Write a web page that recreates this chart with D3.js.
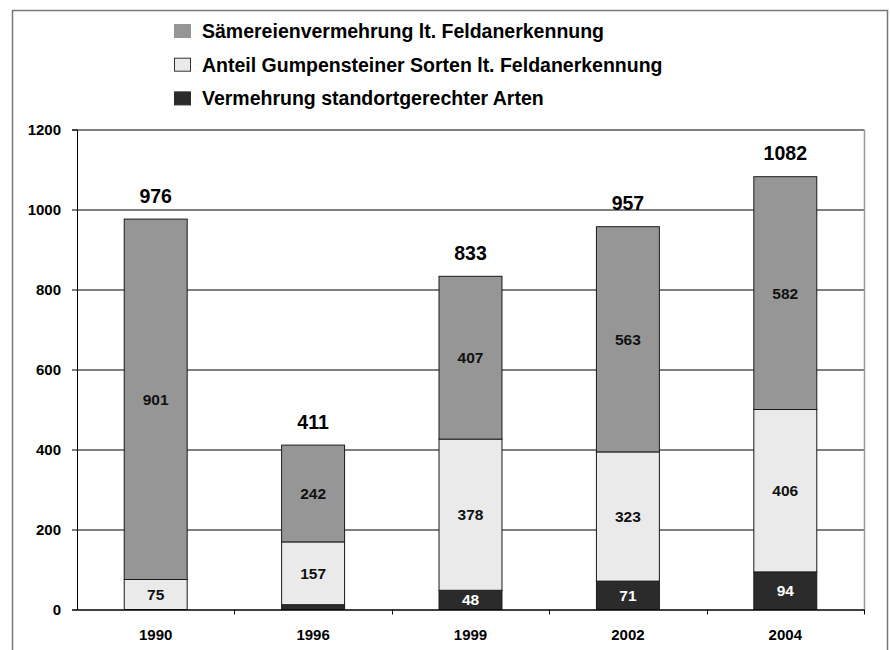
<!DOCTYPE html>
<html>
<head>
<meta charset="utf-8">
<script src="https://cdn.jsdelivr.net/npm/d3@7"></script>
<style>
  body { margin: 0; background: #fff; }
  svg text { font-family: "Liberation Sans", Arial, sans-serif; font-weight: bold; }
</style>
</head>
<body>
<div id="chart"></div>
<script>
// Chart data
const years = ['1990', '1996', '1999', '2002', '2004'];
const standort = [0, 12, 48, 71, 94];          // Vermehrung standortgerechter Arten
const gumpenstein = [75, 157, 378, 323, 406];   // Anteil Gumpensteiner Sorten
const saatgut = [901, 242, 407, 563, 582];      // Sämereienvermehrung
const totals = [976, 411, 833, 957, 1082];
const yTicks = [0, 200, 400, 600, 800, 1000, 1200];

const seriesNames = [
    'Sämereienvermehrung lt. Feldanerkennung',
    'Anteil Gumpensteiner Sorten lt. Feldanerkennung',
    'Vermehrung standortgerechter Arten'
];

const width = 890;
const height = 650;
const margin = { top: 129.5, right: 26, bottom: 40.5, left: 77 };

const colors = { standort: '#2b2b2b', gumpenstein: '#eaeaea', saatgut: '#969696' };

const rows = years.map((y, i) => ({
    year: y,
    standort: standort[i],
    gumpenstein: gumpenstein[i],
    saatgut: saatgut[i],
    total: totals[i]
}));

const keys = ['standort', 'gumpenstein', 'saatgut'];
const stacked = d3.stack().keys(keys)(rows);

const svg = d3.select('#chart')
    .append('svg')
    .attr('width', width)
    .attr('height', height);

// outer frame (bottom edge is cut off in the original)
svg.append('path')
    .attr('d', `M12.5,${height} V10.5 H887.5 V${height}`)
    .attr('fill', 'none')
    .attr('stroke', '#777')
    .attr('stroke-width', 1.5);

const xScale = d3.scaleBand()
    .domain(years)
    .range([margin.left, width - margin.right])
    .paddingInner(0.6)
    .paddingOuter(0.3);

const yScale = d3.scaleLinear()
    .domain([0, 1200])
    .range([height - margin.bottom, margin.top]);

// gridlines
svg.append('g')
    .attr('transform', `translate(${margin.left}, 0)`)
    .call(d3.axisLeft(yScale)
        .tickValues(yTicks)
        .tickSize(-(width - margin.right - margin.left))
        .tickFormat(''))
    .call(g => g.select('.domain').remove())
    .selectAll('line')
    .attr('stroke', '#000');

// right border of plot area (grey)
svg.append('line')
    .attr('x1', width - margin.right + 0.5).attr('x2', width - margin.right + 0.5)
    .attr('y1', yScale(1200)).attr('y2', yScale(0))
    .attr('stroke', '#999')
    .attr('stroke-width', 1.5);

// stacked bars
const layers = svg.append('g')
    .selectAll('g')
    .data(stacked)
    .join('g')
    .attr('fill', d => colors[d.key]);

layers.selectAll('rect')
    .data(d => d.filter(p => p[1] - p[0] > 0))
    .join('rect')
    .attr('x', d => xScale(d.data.year))
    .attr('width', xScale.bandwidth())
    .attr('y', d => yScale(d[1]))
    .attr('height', d => yScale(d[0]) - yScale(d[1]))
    .attr('stroke', '#1a1a1a')
    .attr('stroke-width', 1);

// segment labels
layers.each(function(layer) {
    d3.select(this).selectAll('text')
        .data(layer.filter(p => p[1] - p[0] > 20))
        .join('text')
        .attr('x', d => xScale(d.data.year) + xScale.bandwidth() / 2)
        .attr('y', d => yScale((d[0] + d[1]) / 2))
        .attr('dy', '0.36em')
        .attr('text-anchor', 'middle')
        .attr('font-size', 15.5)
        .attr('fill', layer.key === 'standort' ? '#fff' : '#111')
        .text(d => d[1] - d[0]);
});

// total labels
svg.append('g')
    .selectAll('text')
    .data(rows)
    .join('text')
    .attr('x', d => xScale(d.year) + xScale.bandwidth() / 2)
    .attr('y', d => yScale(d.total) - 16.5)
    .attr('text-anchor', 'middle')
    .attr('font-size', 19.5)
    .attr('fill', '#000')
    .text(d => d.total);

// axes
const yAxis = svg.append('g')
    .attr('transform', `translate(${margin.left}, 0)`)
    .call(d3.axisLeft(yScale).tickValues(yTicks).tickFormat(d3.format('d'))
        .tickSize(5).tickPadding(11));
yAxis.selectAll('text').attr('font-size', 15).attr('fill', '#000');
yAxis.selectAll('line, path').attr('stroke', '#000');

const xAxis = svg.append('g')
    .attr('transform', `translate(0, ${yScale(0)})`)
    .call(d3.axisBottom(xScale).tickSize(0).tickPadding(20));
xAxis.selectAll('text').attr('font-size', 15).attr('fill', '#000');
xAxis.select('.domain').attr('stroke', '#000');

// category separator ticks (plus one at the right end)
const sepX = years.slice(1).map(d => xScale(d) - xScale.step() * xScale.paddingInner() / 2)
    .concat([width - margin.right]);
svg.append('g')
    .selectAll('line')
    .data(sepX)
    .join('line')
    .attr('x1', d => Math.round(d) + 0.5)
    .attr('x2', d => Math.round(d) + 0.5)
    .attr('y1', yScale(0))
    .attr('y2', yScale(0) + 5)
    .attr('stroke', '#000');

// legend
const legend = svg.append('g')
    .selectAll('g')
    .data([
        { name: seriesNames[0], color: colors.saatgut },
        { name: seriesNames[1], color: colors.gumpenstein },
        { name: seriesNames[2], color: colors.standort }
    ])
    .join('g')
    .attr('transform', (d, i) => `translate(174, ${31 + i * 33.7})`);

legend.append('rect')
    .attr('x', 0.5).attr('y', -6.5)
    .attr('width', 16).attr('height', 13)
    .attr('fill', d => d.color)
    .attr('stroke', d => d.color === colors.gumpenstein ? '#333' : d.color);

legend.append('text')
    .attr('x', 28)
    .attr('dy', '0.36em')
    .attr('font-size', 19.5)
    .attr('fill', '#000')
    .text(d => d.name);
</script>
</body>
</html>
